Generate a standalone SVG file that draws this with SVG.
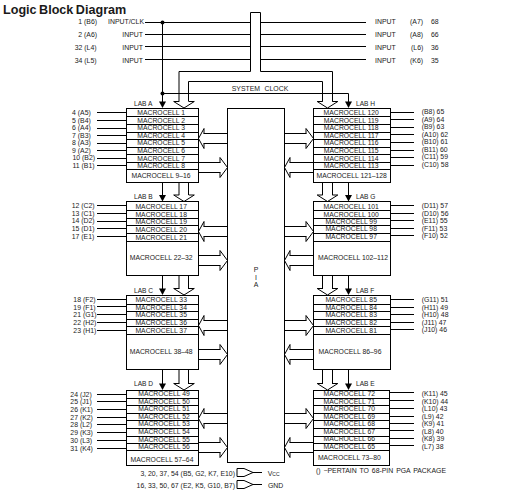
<svg xmlns="http://www.w3.org/2000/svg" width="510" height="490" viewBox="0 0 510 490">
<style>
text{font-family:"Liberation Sans",Arial,sans-serif;font-size:6.9px;fill:#1a1a1a}
.t{font-size:12.6px;font-weight:bold;word-spacing:-1px}
.m{font-size:6.8px;text-anchor:middle}
.e{text-anchor:end}
.c{text-anchor:middle}
.l{font-size:6.6px}
.w,.w path,.w rect{fill:none;stroke:#000;stroke-width:1}
.b{fill:#000;stroke:none}
</style>
<defs>
<path id="hd" d="M-4.8-6.5H-10.3L0 0 10.3-6.5H4.8"/>
<path id="hl" d="M5 -5H5.5V-10L0 0 5.5 10V5H5"/>
<path id="hr" d="M-7 -5H-7.5V-10L0 0-7.5 10V5H-7"/>
<path id="sd" d="M-3.5-6.5H3.5L0 0Z"/>
</defs>
<rect width="510" height="490" fill="#fff"/>
<text class="t" x="3" y="14">Logic Block Diagram</text>

<g id="connectors">
<g class="w">
<path d="M145 22.5H250.5M145 34.5H250.5M145 46.5H250.5M145 59.5H250.5"/>
<path d="M260.5 22.5H366M260.5 34.5H366M260.5 46.5H366M260.5 59.5H366"/>
<path d="M162.5 22.5V102M162.5 93.5H348.5V102"/>
<path d="M179 101.5V71.5H250.5V12.5H260.5V71.5H332.5V101.5"/>
<path d="M188.5 101.5V81.5H322.5V101.5"/>
<path d="M162.5 182V195M179 182V195M188.5 182V195M162.5 275V289M179 275V289M188.5 275V289M162.5 369V384M179 369V384M188.5 369V384"/>
<path d="M348.5 182V195M322.5 182V195M332.5 182V195M348.5 275V289M322.5 275V289M332.5 275V289M348.5 369V384M322.5 369V384M332.5 369V384"/>
<path d="M204 133.5H227.5M204 143.5H227.5M198.5 162.5H220M198.5 172.5H220M204 226.5H227.5M204 236.5H227.5M198.5 255.5H220M198.5 265.5H220M204 320.5H227.5M204 330.5H227.5M198.5 349.5H220M198.5 359.5H220M204 413.5H227.5M204 423.5H227.5M198.5 442.5H220M198.5 452.5H220"/>
<path d="M284.5 133.5H306M284.5 143.5H306M290 162.5H313.5M290 172.5H313.5M284.5 226.5H306M284.5 236.5H306M290 255.5H313.5M290 265.5H313.5M284.5 320.5H306M284.5 330.5H306M290 349.5H313.5M290 359.5H313.5M284.5 413.5H306M284.5 423.5H306M290 442.5H313.5M290 452.5H313.5"/>
<use href="#hd" x="184" y="108"/><use href="#hd" x="184" y="201.5"/><use href="#hd" x="184" y="295"/><use href="#hd" x="184" y="390"/>
<use href="#hd" x="327.5" y="108"/><use href="#hd" x="327.5" y="201.5"/><use href="#hd" x="327.5" y="295"/><use href="#hd" x="327.5" y="390"/>
<use href="#hl" x="198.5" y="138.5"/><use href="#hr" x="227.5" y="167.5"/><use href="#hl" x="198.5" y="231.5"/><use href="#hr" x="227.5" y="260.5"/><use href="#hl" x="198.5" y="325.5"/><use href="#hr" x="227.5" y="354.5"/><use href="#hl" x="198.5" y="418.5"/><use href="#hr" x="227.5" y="447.5"/>
<use href="#hr" x="313.5" y="138.5"/><use href="#hl" x="284.5" y="167.5"/><use href="#hr" x="313.5" y="231.5"/><use href="#hl" x="284.5" y="260.5"/><use href="#hr" x="313.5" y="325.5"/><use href="#hl" x="284.5" y="354.5"/><use href="#hr" x="313.5" y="418.5"/><use href="#hl" x="284.5" y="447.5"/>
<path d="M97 112.5H126.5M97 120.5H126.5M97 128.5H126.5M97 135.5H126.5M97 143.5H126.5M97 150.5H126.5M97 158.5H126.5M97 165.5H126.5"/>
<path d="M97 205.5H126.5M97 213.5H126.5M97 221.5H126.5M97 228.5H126.5M97 236.5H126.5"/>
<path d="M97 299.5H126.5M97 306.5H126.5M97 314.5H126.5M97 322.5H126.5M97 330.5H126.5"/>
<path d="M97 394.5H126.5M97 401.5H126.5M97 409.5H126.5M97 417.5H126.5M97 424.5H126.5M97 432.5H126.5M97 440.5H126.5M97 448.5H126.5"/>
<path d="M390.5 112.5H414M390.5 119.5H414M390.5 127.5H414M390.5 134.5H414M390.5 142.5H414M390.5 150.5H414M390.5 157.5H414M390.5 165.5H414"/>
<path d="M390.5 205.5H414M390.5 213.5H414M390.5 220.5H414M390.5 228.5H414M390.5 235.5H414"/>
<path d="M390.5 299.5H414M390.5 307.5H414M390.5 314.5H414M390.5 322.5H414M390.5 329.5H414"/>
<path d="M389.5 392.5H414M389.5 400.5H414M389.5 408.5H414M389.5 416.5H414M389.5 423.5H414M389.5 430.5H414M389.5 438.5H414M389.5 445.5H414"/>
<path d="M237 468.5H244L253 472.5 244 476.5H237ZM253 472.5H262"/>
<path d="M237 480.5H244L253 484.5 244 488.5H237ZM253 484.5H262"/>
</g>
<circle class="b" cx="162.5" cy="22.5" r="2"/>
<circle class="b" cx="162.5" cy="93.5" r="2"/>
<use class="b" href="#sd" x="162.5" y="108"/><use class="b" href="#sd" x="162.5" y="201.5"/><use class="b" href="#sd" x="162.5" y="295"/><use class="b" href="#sd" x="162.5" y="390"/>
<use class="b" href="#sd" x="348.5" y="108"/><use class="b" href="#sd" x="348.5" y="201.5"/><use class="b" href="#sd" x="348.5" y="295"/><use class="b" href="#sd" x="348.5" y="390"/>
</g>

<g id="top-pins">
<text x="78.3" y="24">1  (B6)</text><text x="78.3" y="37">2  (A6)</text><text x="74.7" y="50">32  (L4)</text><text x="74.7" y="63">34  (L5)</text>
<text class="e" x="144" y="24">INPUT/CLK</text><text class="e" x="143" y="37">INPUT</text><text class="e" x="143" y="50">INPUT</text><text class="e" x="143" y="63">INPUT</text>
<text x="375" y="24">INPUT</text><text x="375" y="37">INPUT</text><text x="375" y="50">INPUT</text><text x="375" y="63">INPUT</text>
<text x="410" y="24">(A7)</text><text x="410" y="37">(A8)</text><text x="411" y="50">(L6)</text><text x="410" y="63">(K6)</text>
<text x="431" y="24">68</text><text x="431" y="37">66</text><text x="431" y="50">36</text><text x="431" y="63">35</text>
</g>

<g id="system-clock"><text class="c" x="260" y="91" style="word-spacing:2.5px">SYSTEM CLOCK</text></g>

<g id="pia">
<rect class="w" x="227.5" y="108.5" width="57" height="354" style="fill:none;stroke:#000"/>
<text class="c" x="256" y="272">P</text><text class="c" x="256" y="279.5">I</text><text class="c" x="256" y="287">A</text>
</g>

<g id="lab-a">
<rect x="126.5" y="108.5" width="72" height="74" fill="none" stroke="#000"/>
<path fill="none" stroke="#000" d="M126.5 116.5H198.5M126.5 124.5H198.5M126.5 132.5H198.5M126.5 139.5H198.5M126.5 147.5H198.5M126.5 154.5H198.5M126.5 162.5H198.5M126.5 169.5H198.5"/>
<text class="l" x="134" y="106">LAB A</text>
<text class="m" x="161.2" y="115">MACROCELL 1</text><text class="m" x="161.2" y="123">MACROCELL 2</text><text class="m" x="161.2" y="130">MACROCELL 3</text><text class="m" x="161.2" y="138">MACROCELL 4</text><text class="m" x="161.2" y="145">MACROCELL 5</text><text class="m" x="161.2" y="153">MACROCELL 6</text><text class="m" x="161.2" y="161">MACROCELL 7</text><text class="m" x="161.2" y="168">MACROCELL 8</text><text class="m" x="161" y="178">MACROCELL 9–16</text>
<text x="72" y="115">4 (A5)</text><text x="72" y="123">5 (B4)</text><text x="72" y="130">6 (A4)</text><text x="72" y="138">7 (B3)</text><text x="72" y="145">8 (A3)</text><text x="72" y="153">9 (A2)</text><text x="72.5" y="160">10 (B2)</text><text x="72.5" y="168">11 (B1)</text>
</g>
<g id="lab-b">
<rect x="126.5" y="201.5" width="72" height="74" fill="none" stroke="#000"/>
<path fill="none" stroke="#000" d="M126.5 210.5H198.5M126.5 218.5H198.5M126.5 225.5H198.5M126.5 233.5H198.5M126.5 241.5H198.5"/>
<text class="l" x="134" y="199">LAB B</text>
<text class="m" x="161.2" y="209">MACROCELL 17</text><text class="m" x="161.2" y="217">MACROCELL 18</text><text class="m" x="161.2" y="224">MACROCELL 19</text><text class="m" x="161.2" y="232">MACROCELL 20</text><text class="m" x="161.2" y="239.5">MACROCELL 21</text><text class="m" x="161.2" y="260">MACROCELL 22–32</text>
<text x="71.7" y="208">12 (C2)</text><text x="71.7" y="216">13 (C1)</text><text x="71.7" y="223">14 (D2)</text><text x="71.7" y="231">15 (D1)</text><text x="71.7" y="238.5">17 (E1)</text>
</g>
<g id="lab-c">
<rect x="126.5" y="295.5" width="72" height="74" fill="none" stroke="#000"/>
<path fill="none" stroke="#000" d="M126.5 304.5H198.5M126.5 311.5H198.5M126.5 319.5H198.5M126.5 326.5H198.5M126.5 334.5H198.5"/>
<text class="l" x="134" y="293">LAB C</text>
<text class="m" x="161.2" y="302">MACROCELL 33</text><text class="m" x="161.2" y="310">MACROCELL 34</text><text class="m" x="161.2" y="317">MACROCELL 35</text><text class="m" x="161.2" y="325">MACROCELL 36</text><text class="m" x="161.2" y="333">MACROCELL 37</text><text class="m" x="161.2" y="353.7">MACROCELL 38–48</text>
<text x="73.3" y="302">18 (F2)</text><text x="73.3" y="310">19 (F1)</text><text x="73.3" y="317">21 (G1)</text><text x="73.3" y="325">22 (H2)</text><text x="73.3" y="332.5">23 (H1)</text>
</g>
<g id="lab-d">
<rect x="126.5" y="390.5" width="72" height="75" fill="none" stroke="#000"/>
<path fill="none" stroke="#000" d="M126.5 398.5H198.5M126.5 405.5H198.5M126.5 413.5H198.5M126.5 420.5H198.5M126.5 428.5H198.5M126.5 436.5H198.5M126.5 443.5H198.5M126.5 450.5H198.5"/>
<text class="l" x="134" y="386">LAB D</text>
<text class="m" x="164" y="396">MACROCELL 49</text><text class="m" x="164" y="404">MACROCELL 50</text><text class="m" x="164" y="411">MACROCELL 51</text><text class="m" x="164" y="418.7">MACROCELL 52</text><text class="m" x="164" y="426.4">MACROCELL 53</text><text class="m" x="164" y="434">MACROCELL 54</text><text class="m" x="164" y="442">MACROCELL 55</text><text class="m" x="164" y="449.4">MACROCELL 56</text><text class="m" x="162" y="462">MACROCELL 57–64</text>
<text x="70.3" y="396.5">24 (J2)</text><text x="70.3" y="404">25 (J1)</text><text x="70.3" y="412">26 (K1)</text><text x="70.3" y="420">27 (K2)</text><text x="70.3" y="427">28 (L2)</text><text x="70.3" y="435">29 (K3)</text><text x="70.3" y="442.5">30 (L3)</text><text x="70.3" y="450.5">31 (K4)</text>
</g>

<g id="lab-h">
<rect x="313.5" y="108.5" width="77" height="74" fill="none" stroke="#000"/>
<path fill="none" stroke="#000" d="M313.5 116.5H390.5M313.5 124.5H390.5M313.5 132.5H390.5M313.5 139.5H390.5M313.5 147.5H390.5M313.5 154.5H390.5M313.5 162.5H390.5M313.5 169.5H390.5"/>
<text class="l" x="356" y="106">LAB H</text>
<text class="m" x="351.2" y="115">MACROCELL 120</text><text class="m" x="351.2" y="123">MACROCELL 119</text><text class="m" x="351.2" y="130">MACROCELL 118</text><text class="m" x="351.2" y="138">MACROCELL 117</text><text class="m" x="351.2" y="145">MACROCELL 116</text><text class="m" x="351.2" y="153">MACROCELL 115</text><text class="m" x="351.2" y="161">MACROCELL 114</text><text class="m" x="351.2" y="168">MACROCELL 113</text><text class="m" x="351.7" y="178">MACROCELL 121–128</text>
<text x="421.7" y="114">(B8) 65</text><text x="421.7" y="122">(A9) 64</text><text x="421.7" y="129">(B9) 63</text><text x="421.7" y="137">(A10) 62</text><text x="421.7" y="144">(B10) 61</text><text x="421.7" y="152">(B11) 60</text><text x="421.7" y="159">(C11) 59</text><text x="421.7" y="167">(C10) 58</text>
</g>
<g id="lab-g">
<rect x="313.5" y="201.5" width="77" height="74" fill="none" stroke="#000"/>
<path fill="none" stroke="#000" d="M313.5 210.5H390.5M313.5 218.5H390.5M313.5 225.5H390.5M313.5 233.5H390.5M313.5 241.5H390.5"/>
<text class="l" x="356" y="199">LAB G</text>
<text class="m" x="351.2" y="208.5">MACROCELL 101</text><text class="m" x="351.2" y="216.5">MACROCELL 100</text><text class="m" x="351.2" y="224">MACROCELL 99</text><text class="m" x="351.2" y="231">MACROCELL 98</text><text class="m" x="351.2" y="239">MACROCELL 97</text><text class="m" x="353" y="260">MACROCELL 102–112</text>
<text x="421.7" y="207.5">(D11) 57</text><text x="421.7" y="216">(D10) 56</text><text x="421.7" y="223">(E11) 55</text><text x="421.7" y="231">(F11) 53</text><text x="421.7" y="238">(F10) 52</text>
</g>
<g id="lab-f">
<rect x="313.5" y="295.5" width="77" height="74" fill="none" stroke="#000"/>
<path fill="none" stroke="#000" d="M313.5 304.5H390.5M313.5 311.5H390.5M313.5 319.5H390.5M313.5 326.5H390.5M313.5 334.5H390.5"/>
<text class="l" x="356" y="293">LAB F</text>
<text class="m" x="351.2" y="302">MACROCELL 85</text><text class="m" x="351.2" y="310">MACROCELL 84</text><text class="m" x="351.2" y="317">MACROCELL 83</text><text class="m" x="351.2" y="325">MACROCELL 82</text><text class="m" x="351.2" y="333">MACROCELL 81</text><text class="m" x="350" y="353.7">MACROCELL 86–96</text>
<text x="421.7" y="302">(G11) 51</text><text x="421.7" y="309.5">(H11) 49</text><text x="421.7" y="317">(H10) 48</text><text x="421.7" y="325">(J11) 47</text><text x="421.7" y="332">(J10) 46</text>
</g>
<g id="lab-e">
<rect x="313.5" y="390.5" width="76" height="75" fill="none" stroke="#000"/>
<path fill="none" stroke="#000" d="M313.5 398.5H389.5M313.5 405.5H389.5M313.5 413.5H389.5M313.5 420.5H389.5M313.5 428.5H389.5M313.5 436.5H389.5M313.5 443.5H389.5M313.5 450.5H389.5"/>
<text class="l" x="356" y="386">LAB E</text>
<text class="m" x="349.3" y="396">MACROCELL 72</text><text class="m" x="349.3" y="404">MACROCELL 71</text><text class="m" x="349.3" y="411">MACROCELL 70</text><text class="m" x="349.3" y="419.4">MACROCELL 69</text><text class="m" x="349.3" y="426">MACROCELL 68</text><text class="m" x="349.3" y="434">MACROCELL 67</text><text class="m" x="349.3" y="441">MACROCELL 66</text><text class="m" x="349.3" y="449">MACROCELL 65</text><text class="m" x="349.3" y="460">MACROCELL 73–80</text>
<text x="421.7" y="396">(K11) 45</text><text x="421.7" y="404">(K10) 44</text><text x="421.7" y="411">(L10) 43</text><text x="421.7" y="419">(L9) 42</text><text x="421.7" y="426">(K9) 41</text><text x="421.7" y="434">(L8) 40</text><text x="421.7" y="441">(K8) 39</text><text x="421.7" y="449">(L7) 38</text>
</g>

<g id="power">
<text class="e" x="235" y="476">3, 20, 37, 54 (B5, G2, K7, E10)</text>
<text class="e" x="235" y="488">16, 33, 50, 67 (E2, K5, G10, B7)</text>
<text x="267.7" y="476">V<tspan font-size="5">CC</tspan></text>
<text x="268" y="488">GND</text>
</g>
<g id="note"><text x="316" y="473" textLength="130" style="font-size:6.9px;word-spacing:1px">() −PERTAIN TO 68-PIN PGA PACKAGE</text></g>
</svg>
